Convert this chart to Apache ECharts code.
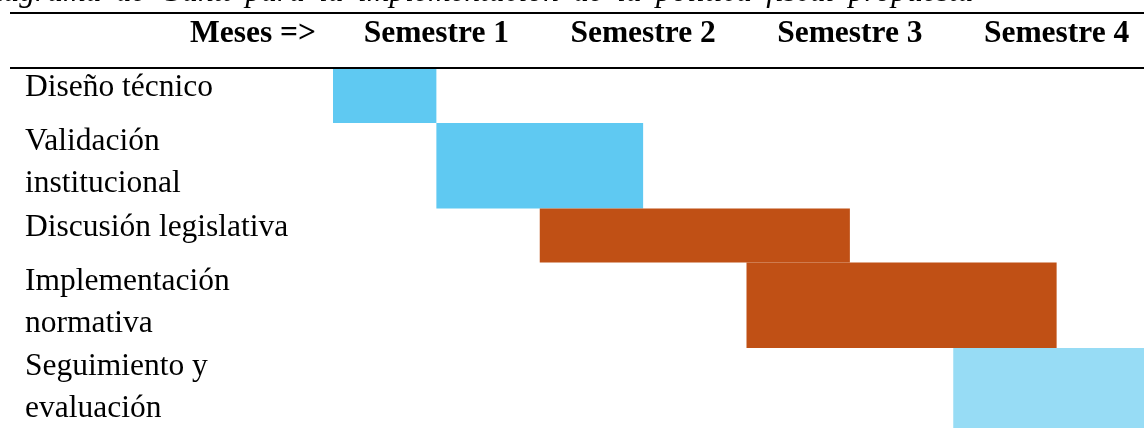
<!DOCTYPE html>
<html>
<head>
<meta charset="utf-8">
<script src="https://cdn.jsdelivr.net/npm/echarts@6/dist/echarts.min.js"></script>
<style>
  html, body { margin: 0; padding: 0; background: #ffffff; }
  #chart { width: 1144px; height: 428px; }
</style>
</head>
<body>
<div id="chart"></div>
<script>
// Activities of the fiscal policy rollout, with their span in quarters (half-semesters)
const tasks = [
  'Diseño técnico',
  'Validación\ninstitucional',
  'Discusión legislativa',
  'Implementación\nnormativa',
  'Seguimiento y\nevaluación'
];
const taskStart = [0, 1, 2, 4, 6];
const taskEnd = [1, 3, 5, 7, 8];
const semesters = ['Semestre 1', 'Semestre 2', 'Semestre 3', 'Semestre 4'];
const headerLabel = 'Meses =>';
const caption = 'Diagrama de Gantt para la implementación de la política fiscal propuesta';

// Styling
const FONT = '"Liberation Serif", "Times New Roman", serif';
const taskColors = ['#5fc9f2', '#5fc9f2', '#c05015', '#c05015', '#97dcf5'];
const LABEL_SIZE = 31.5;
const LINE_HEIGHT = 42;

// Each row is as tall as its label needs
const rowHeight = lines => 22.5 + 31.5 * lines;
const rowTop = [];
const rowBottom = [];
let total = 0;
tasks.forEach(t => {
  rowTop.push(total);
  total += rowHeight(t.split('\n').length);
  rowBottom.push(total);
});

const ganttData = tasks.map((t, i) => [taskStart[i], taskEnd[i], rowTop[i], rowBottom[i], i]);

const chart = echarts.init(document.getElementById('chart'), null, { renderer: 'canvas' });

chart.setOption({
  animation: false,
  backgroundColor: '#ffffff',
  grid: {
    left: 333, top: 69, width: 827, height: total,
    containLabel: false, outerBoundsMode: 'none'
  },
  xAxis: [
    {
      type: 'value', min: 0, max: 8, interval: 1,
      axisLine: { show: false }, axisTick: { show: false },
      axisLabel: { show: false }, splitLine: { show: false }
    },
    {
      type: 'category', position: 'top', data: semesters, boundaryGap: true,
      axisLine: { show: false }, axisTick: { show: false }, splitLine: { show: false },
      axisLabel: {
        color: '#000000', fontFamily: FONT, fontSize: LABEL_SIZE, fontWeight: 'bold', margin: 19
      }
    }
  ],
  yAxis: {
    type: 'value', min: 0, max: total, inverse: true,
    axisLine: { show: false }, axisTick: { show: false },
    axisLabel: { show: false }, splitLine: { show: false }
  },
  graphic: [
    {
      // justified caption line: words spread a little wider than normal
      type: 'text', left: -28, top: -23,
      style: {
        text: caption.split(' ').join(' \u2009'), fontFamily: FONT, fontSize: LABEL_SIZE,
        fontStyle: 'italic', fill: '#000000'
      }
    },
    {
      type: 'line', shape: { x1: 10, y1: 13, x2: 1144, y2: 13 },
      style: { stroke: '#000000', lineWidth: 2 }
    },
    {
      type: 'line', shape: { x1: 10, y1: 68, x2: 1144, y2: 68 },
      style: { stroke: '#000000', lineWidth: 2 }
    },
    {
      type: 'text', x: 316, y: 34,
      style: {
        text: headerLabel, fontFamily: FONT, fontSize: LABEL_SIZE, fontWeight: 'bold',
        fill: '#000000', align: 'right', verticalAlign: 'middle'
      }
    }
  ],
  series: [{
    type: 'custom',
    clip: false,
    encode: { x: [0, 1], y: [2, 3] },
    data: ganttData,
    renderItem: function (params, api) {
      const idx = api.value(4);
      const p0 = api.coord([api.value(0), api.value(2)]);
      const p1 = api.coord([api.value(1), api.value(3)]);
      return {
        type: 'group',
        children: [
          {
            type: 'rect',
            shape: { x: p0[0], y: p0[1], width: p1[0] - p0[0], height: p1[1] - p0[1] },
            style: { fill: taskColors[idx] }
          },
          {
            type: 'text',
            x: 25, y: p0[1] - 2,
            style: {
              text: tasks[idx], fontFamily: FONT, fontSize: LABEL_SIZE, fill: '#000000',
              align: 'left', verticalAlign: 'top', lineHeight: LINE_HEIGHT
            }
          }
        ]
      };
    }
  }]
});
</script>
</body>
</html>
